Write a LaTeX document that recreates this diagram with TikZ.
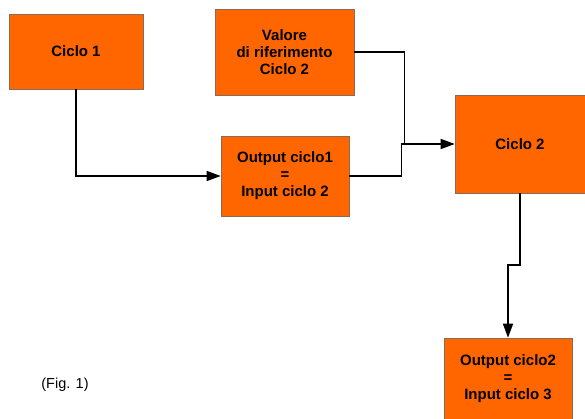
\documentclass[tikz,border=0pt]{standalone}
\usepackage{fontspec}
\setmainfont{Liberation Sans}
\usetikzlibrary{arrows.meta}
\definecolor{boxfill}{HTML}{FF6600}
\definecolor{boxline}{HTML}{8C6A55}
\begin{document}
\begin{tikzpicture}[x=1pt,y=-1pt,
  box/.style={draw=boxline,line width=0.6pt,fill=boxfill,inner sep=0pt,align=center,
    font=\fontsize{15}{17}\selectfont\bfseries},
  conn/.style={line width=1.5pt,-{Triangle[length=14pt,width=10pt]}},
  plain/.style={line width=1.5pt}]
\useasboundingbox (0,0) rectangle (585,418);
\node[box,minimum width=134pt,minimum height=75pt] (c1) at (76,51.5) {Ciclo 1};
\node[box,minimum width=139pt,minimum height=86pt] (val) at (284.5,52) {Valore\\di riferimento\\Ciclo 2};
\node[box,minimum width=128pt,minimum height=80pt] (o1) at (285,176) {Output ciclo1\\=\\Input ciclo 2};
\node[box,minimum width=130pt,minimum height=98pt] (c2) at (520,144) {Ciclo 2};
\node[box,minimum width=128pt,minimum height=82pt] (o2) at (508,379) {Output ciclo2\\=\\Input ciclo 3};
\node[font=\fontsize{14.5}{17}\selectfont] (fig) at (65,385) {(Fig. 1)};
\draw[conn] (c1.south) |- (o1.west);
\draw[plain] (val.east |- 0,52) -| (404.3,144);
\draw[conn] (o1.east) -| (401.7,144) -- (c2.west);
\draw[conn] (c2.south) -- (520,265) -| (o2.north);
\end{tikzpicture}
\end{document}
